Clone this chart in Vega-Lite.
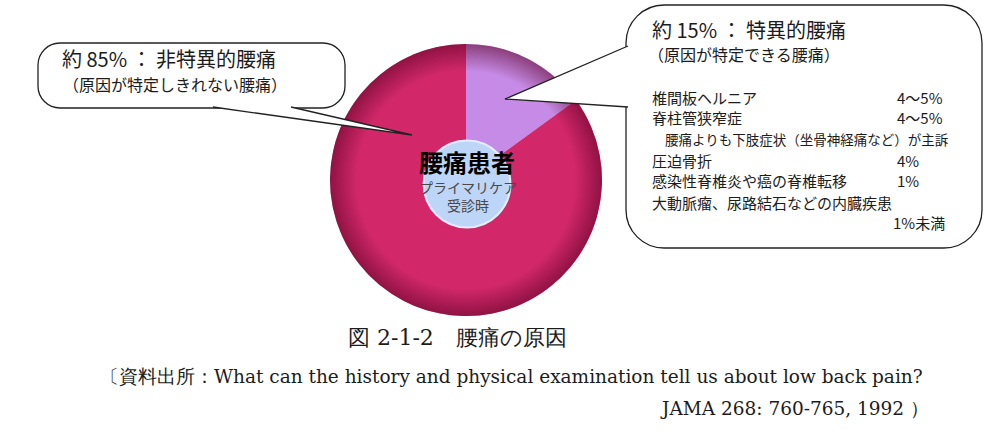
{
  "$schema": "https://vega.github.io/schema/vega-lite/v6.json",
  "width": 1000,
  "height": 441,
  "padding": 0,
  "autosize": {"type": "none"},
  "background": "white",
  "config": {"view": {"stroke": null}, "text": {"font": "Noto Sans CJK JP", "color": "#1c1c1c", "baseline": "middle", "align": "left"}},
  "datasets": {
    "causes": [
      {"category": "特異的腰痛", "pct": 15},
      {"category": "非特異的腰痛", "pct": 85}
    ],
    "tails": [
      {"bubble": "left", "i": 0, "x": 213, "y": 107},
      {"bubble": "left", "i": 1, "x": 412, "y": 135},
      {"bubble": "left", "i": 2, "x": 291, "y": 107},
      {"bubble": "right", "i": 0, "x": 628, "y": 46},
      {"bubble": "right", "i": 1, "x": 505, "y": 99},
      {"bubble": "right", "i": 2, "x": 628, "y": 107}
    ]
  },
  "layer": [
    {
      "data": {"name": "causes"},
      "mark": {"type": "arc", "outerRadius": 136},
      "encoding": {
        "theta": {"field": "pct", "type": "quantitative", "stack": true},
        "order": {"field": "pct", "sort": "ascending"},
        "color": {"field": "category", "type": "nominal", "scale": {"domain": ["特異的腰痛", "非特異的腰痛"], "range": ["#c68be6", "#d2286a"]}, "legend": null},
        "x": {"datum": 466, "type": "quantitative", "scale": {"domain": [0, 1000]}, "axis": null},
        "y": {"datum": 180, "type": "quantitative", "scale": {"domain": [0, 441], "reverse": true}, "axis": null}
      }
    },
    {
      "data": {"values": [{"shade": "rim"}]},
      "mark": {"type": "arc", "theta": 0, "theta2": 6.2832, "outerRadius": 136, "innerRadius": 0,
        "color": {"gradient": "radial", "x1": 0.5, "y1": 0.5, "x2": 0.5, "y2": 0.5, "r1": 0, "r2": 0.5,
          "stops": [{"offset": 0, "color": "rgba(90,0,35,0)"}, {"offset": 0.8, "color": "rgba(90,0,35,0)"}, {"offset": 1, "color": "rgba(90,0,35,0.55)"}]}},
      "encoding": {
        "x": {"datum": 466, "type": "quantitative", "scale": {"domain": [0, 1000]}, "axis": null},
        "y": {"datum": 180, "type": "quantitative", "scale": {"domain": [0, 441], "reverse": true}, "axis": null}
      }
    },
    {
      "data": {"values": [{"part": "center"}]},
      "mark": {"type": "point", "shape": "circle", "filled": true, "size": 7540, "fill": "#bdd5f6", "stroke": "#e4eefb", "strokeWidth": 2, "opacity": 1},
      "encoding": {
        "x": {"datum": 467, "type": "quantitative", "scale": {"domain": [0, 1000]}, "axis": null},
        "y": {"datum": 184, "type": "quantitative", "scale": {"domain": [0, 441], "reverse": true}, "axis": null}
      }
    },
    {
      "data": {"values": [{"t": "腰痛患者", "x": 467, "y": 165}]},
      "mark": {"type": "text", "fontSize": 24, "fontWeight": "bold", "align": "center", "color": "#000000"},
      "encoding": {
        "text": {"field": "t"},
        "x": {"field": "x", "type": "quantitative", "scale": {"domain": [0, 1000]}, "axis": null},
        "y": {"field": "y", "type": "quantitative", "scale": {"domain": [0, 441], "reverse": true}, "axis": null}
      }
    },
    {
      "data": {"values": [{"t": "プライマリケア", "x": 468, "y": 189}, {"t": "受診時", "x": 468, "y": 207}]},
      "mark": {"type": "text", "fontSize": 14, "align": "center", "color": "#4a4a4a"},
      "encoding": {
        "text": {"field": "t"},
        "x": {"field": "x", "type": "quantitative", "scale": {"domain": [0, 1000]}, "axis": null},
        "y": {"field": "y", "type": "quantitative", "scale": {"domain": [0, 441], "reverse": true}, "axis": null}
      }
    },
    {
      "data": {"values": [{"x": 38, "x2": 345, "y": 43, "y2": 108}]},
      "mark": {"type": "rect", "cornerRadius": 22, "fill": "white", "stroke": "#222222", "strokeWidth": 1.3},
      "encoding": {
        "x": {"field": "x", "type": "quantitative", "scale": {"domain": [0, 1000]}, "axis": null},
        "x2": {"field": "x2"},
        "y": {"field": "y", "type": "quantitative", "scale": {"domain": [0, 441], "reverse": true}, "axis": null},
        "y2": {"field": "y2"}
      }
    },
    {
      "data": {"values": [{"x": 626, "x2": 982, "y": 5, "y2": 248}]},
      "mark": {"type": "rect", "cornerRadius": 38, "fill": "white", "stroke": "#222222", "strokeWidth": 1.3},
      "encoding": {
        "x": {"field": "x", "type": "quantitative", "scale": {"domain": [0, 1000]}, "axis": null},
        "x2": {"field": "x2"},
        "y": {"field": "y", "type": "quantitative", "scale": {"domain": [0, 441], "reverse": true}, "axis": null},
        "y2": {"field": "y2"}
      }
    },
    {
      "data": {"name": "tails"},
      "mark": {"type": "line", "fill": "white", "stroke": "#222222", "strokeWidth": 1.3, "interpolate": "linear"},
      "encoding": {
        "detail": {"field": "bubble"},
        "order": {"field": "i", "type": "quantitative"},
        "x": {"field": "x", "type": "quantitative", "scale": {"domain": [0, 1000]}, "axis": null},
        "y": {"field": "y", "type": "quantitative", "scale": {"domain": [0, 441], "reverse": true}, "axis": null}
      }
    },
    {
      "data": {"values": [{"t": "約 85% ： 非特異的腰痛", "x": 62, "y": 61}, {"t": "約 15% ： 特異的腰痛", "x": 652, "y": 32}]},
      "mark": {"type": "text", "fontSize": 20},
      "encoding": {
        "text": {"field": "t"},
        "x": {"field": "x", "type": "quantitative", "scale": {"domain": [0, 1000]}, "axis": null},
        "y": {"field": "y", "type": "quantitative", "scale": {"domain": [0, 441], "reverse": true}, "axis": null}
      }
    },
    {
      "data": {"values": [{"t": "（原因が特定しきれない腰痛）", "x": 63, "y": 86}, {"t": "（原因が特定できる腰痛）", "x": 648, "y": 56}]},
      "mark": {"type": "text", "fontSize": 16},
      "encoding": {
        "text": {"field": "t"},
        "x": {"field": "x", "type": "quantitative", "scale": {"domain": [0, 1000]}, "axis": null},
        "y": {"field": "y", "type": "quantitative", "scale": {"domain": [0, 441], "reverse": true}, "axis": null}
      }
    },
    {
      "data": {"values": [
        {"t": "椎間板ヘルニア", "x": 652, "y": 99},
        {"t": "脊柱管狭窄症", "x": 652, "y": 119},
        {"t": "圧迫骨折", "x": 652, "y": 162},
        {"t": "感染性脊椎炎や癌の脊椎転移", "x": 652, "y": 182},
        {"t": "大動脈瘤、尿路結石などの内臓疾患", "x": 652, "y": 204},
        {"t": "4〜5%", "x": 897, "y": 99},
        {"t": "4〜5%", "x": 897, "y": 119},
        {"t": "4%", "x": 897, "y": 162},
        {"t": "1%", "x": 897, "y": 182},
        {"t": "1%未満", "x": 893, "y": 224}
      ]},
      "mark": {"type": "text", "fontSize": 15},
      "encoding": {
        "text": {"field": "t"},
        "x": {"field": "x", "type": "quantitative", "scale": {"domain": [0, 1000]}, "axis": null},
        "y": {"field": "y", "type": "quantitative", "scale": {"domain": [0, 441], "reverse": true}, "axis": null}
      }
    },
    {
      "data": {"values": [{"t": "腰痛よりも下肢症状（坐骨神経痛など）が主訴", "x": 665, "y": 141}]},
      "mark": {"type": "text", "fontSize": 13.5},
      "encoding": {
        "text": {"field": "t"},
        "x": {"field": "x", "type": "quantitative", "scale": {"domain": [0, 1000]}, "axis": null},
        "y": {"field": "y", "type": "quantitative", "scale": {"domain": [0, 441], "reverse": true}, "axis": null}
      }
    },
    {
      "data": {"values": [{"t": "図 2-1-2　腰痛の原因", "x": 348, "y": 338}]},
      "mark": {"type": "text", "fontSize": 22, "font": "DejaVu Serif"},
      "encoding": {
        "text": {"field": "t"},
        "x": {"field": "x", "type": "quantitative", "scale": {"domain": [0, 1000]}, "axis": null},
        "y": {"field": "y", "type": "quantitative", "scale": {"domain": [0, 441], "reverse": true}, "axis": null}
      }
    },
    {
      "data": {"values": [
        {"t": "〔資料出所：What can the history and physical examination tell us about low back pain?", "x": 100, "y": 377},
        {"t": "JAMA 268: 760-765, 1992 ）", "x": 662, "y": 409}
      ]},
      "mark": {"type": "text", "fontSize": 18.5, "font": "DejaVu Serif"},
      "encoding": {
        "text": {"field": "t"},
        "x": {"field": "x", "type": "quantitative", "scale": {"domain": [0, 1000]}, "axis": null},
        "y": {"field": "y", "type": "quantitative", "scale": {"domain": [0, 441], "reverse": true}, "axis": null}
      }
    }
  ]
}
